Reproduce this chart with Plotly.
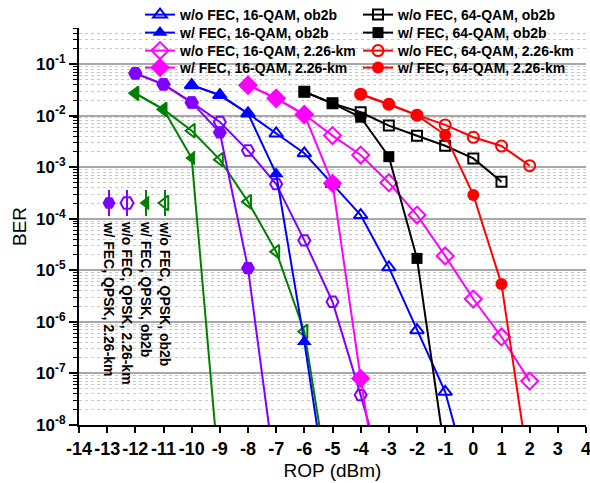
import numpy as np
import plotly.graph_objects as go

# ---------------- data ----------------
qam16_b2b_nofec_x = [-10, -9, -8, -7, -6, -5, -4, -3, -2, -1, 0]
qam16_b2b_nofec_y = [3.9e-2, 2.5e-2, 1.1e-2, 4.5e-3, 1.86e-3, 4.7e-4, 1.18e-4, 1.14e-5, 6.9e-7, 4.4e-8, 4.5e-10]
qam16_b2b_fec_x = [-10, -9, -8, -7, -6, -5]
qam16_b2b_fec_y = [3.9e-2, 2.5e-2, 1.1e-2, 7.4e-4, 4.1e-7, 1e-10]

qam16_km_nofec_x = [-8, -7, -6, -5, -4, -3, -2, -1, 0, 1, 2]
qam16_km_nofec_y = [3.9e-2, 2.16e-2, 1.05e-2, 4.1e-3, 1.72e-3, 5.0e-4, 1.18e-4, 1.9e-5, 2.77e-6, 5.1e-7, 7.1e-8]
qam16_km_fec_x = [-8, -7, -6, -5, -4, -3]
qam16_km_fec_y = [3.9e-2, 2.16e-2, 1.05e-2, 4.9e-4, 8.0e-8, 2.7e-11]

qam64_b2b_nofec_x = [-6, -5, -4, -3, -2, -1, 0, 1]
qam64_b2b_nofec_y = [2.9e-2, 1.73e-2, 1.16e-2, 6.4e-3, 4.07e-3, 2.6e-3, 1.48e-3, 5.2e-4]
qam64_b2b_fec_x = [-6, -5, -4, -3, -2, -1]
qam64_b2b_fec_y = [2.9e-2, 1.73e-2, 9.3e-3, 1.6e-3, 1.7e-5, 2.7e-9]

qam64_km_nofec_x = [-4, -3, -2, -1, 0, 1, 2]
qam64_km_nofec_y = [2.6e-2, 1.66e-2, 1.02e-2, 6.6e-3, 3.8e-3, 2.57e-3, 1.07e-3]
qam64_km_fec_x = [-4, -3, -2, -1, 0, 1, 2]
qam64_km_fec_y = [2.6e-2, 1.66e-2, 1.02e-2, 4.2e-3, 2.9e-4, 5.4e-6, 1.1e-9]

qpsk_km_nofec_x = [-12, -11, -10, -9, -8, -7, -6, -5, -4, -3]
qpsk_km_nofec_y = [6.6e-2, 4.04e-2, 1.8e-2, 7.5e-3, 2.1e-3, 4.7e-4, 3.8e-5, 2.46e-6, 3.8e-8, 4.5e-10]
qpsk_km_fec_x = [-12, -11, -10, -9, -8, -7]
qpsk_km_fec_y = [6.6e-2, 4.04e-2, 1.8e-2, 4.7e-3, 1.1e-5, 8.5e-10]

qpsk_b2b_nofec_x = [-12, -11, -10, -9, -8, -7, -6, -5]
qpsk_b2b_nofec_y = [2.7e-2, 1.32e-2, 5.1e-3, 1.4e-3, 2.14e-4, 2.3e-5, 6.5e-7, 2.5e-10]
qpsk_b2b_fec_x = [-12, -11, -10, -9]
qpsk_b2b_fec_y = [2.7e-2, 1.32e-2, 1.5e-3, 8e-10]

x_tick_vals = list(range(-14, 5))
x_tick_text = [str(v) for v in x_tick_vals]
y_tick_exps = [-8, -7, -6, -5, -4, -3, -2, -1]
y_tick_text = ["10<sup>%d</sup>" % e for e in y_tick_exps]

qpsk_legend_labels = ["w/ FEC, QPSK, 2.26-km", "w/o FEC, QPSK, 2.26-km",
                      "w/ FEC, QPSK, ob2b", "w/o FEC, QPSK, ob2b"]

# ---------------- style ----------------
BLUE = "#0000FF"
MAG = "#FF00FF"
BLK = "#000000"
RED = "#FF0000"
PUR = "#8000FF"
GRN = "#008000"
FONT = "Arial, Liberation Sans, sans-serif"

W, H = 590, 483
L, R, T, B = 79, 586, 28, 425   # plot area in pixels

fig = go.Figure()


def add(x, y, color, symbol, size, name, legend=None, show=True):
    is_open = symbol.endswith("-open")
    fig.add_trace(go.Scatter(
        x=x, y=y, mode="lines+markers", name=name,
        line=dict(color=color, width=2),
        marker=dict(symbol=symbol, size=size, color=color,
                    line=dict(color=color, width=2 if is_open else 0)),
        showlegend=show, legend=legend,
    ))


# QPSK (custom vertical legend)
add(qpsk_b2b_nofec_x, qpsk_b2b_nofec_y, GRN, "triangle-left-open", 12, "w/o FEC, QPSK, ob2b", show=False)
add(qpsk_b2b_fec_x, qpsk_b2b_fec_y, GRN, "triangle-left", 13, "w/ FEC, QPSK, ob2b", show=False)
add(qpsk_km_nofec_x, qpsk_km_nofec_y, PUR, "hexagon2-open", 12, "w/o FEC, QPSK, 2.26-km", show=False)
add(qpsk_km_fec_x, qpsk_km_fec_y, PUR, "hexagon2", 14, "w/ FEC, QPSK, 2.26-km", show=False)

# top legend: one plotly legend per entry so the row pitch matches the reference
legend_rows_px = [15, 33, 51, 68]
add(qam16_b2b_nofec_x, qam16_b2b_nofec_y, BLUE, "triangle-up-open", 12, "w/o FEC, 16-QAM, ob2b", "legend")
add(qam16_b2b_fec_x, qam16_b2b_fec_y, BLUE, "triangle-up", 13, "w/ FEC, 16-QAM, ob2b", "legend2")
add(qam16_km_nofec_x, qam16_km_nofec_y, MAG, "diamond-open", 13, "w/o FEC, 16-QAM, 2.26-km", "legend3")
add(qam16_km_fec_x, qam16_km_fec_y, MAG, "diamond", 15, "w/ FEC, 16-QAM, 2.26-km", "legend4")
add(qam64_b2b_nofec_x, qam64_b2b_nofec_y, BLK, "square-open", 10, "w/o FEC, 64-QAM, ob2b", "legend5")
add(qam64_b2b_fec_x, qam64_b2b_fec_y, BLK, "square", 11, "w/ FEC, 64-QAM, ob2b", "legend6")
add(qam64_km_nofec_x, qam64_km_nofec_y, RED, "circle-open", 11, "w/o FEC, 64-QAM, 2.26-km", "legend7")
add(qam64_km_fec_x, qam64_km_fec_y, RED, "circle", 12, "w/ FEC, 64-QAM, 2.26-km", "legend8")

# ---------------- custom vertical QPSK legend (pixel overlay axes) ----------------
leg_cols = [109, 127, 146, 165]
leg_colors = [PUR, PUR, GRN, GRN]
leg_symbols = ["hexagon2", "hexagon2-open", "triangle-left", "triangle-left-open"]
for cx, col, sym, lab in zip(leg_cols, leg_colors, leg_symbols, qpsk_legend_labels):
    fig.add_trace(go.Scatter(
        x=[cx, cx], y=[190, 216], mode="lines", line=dict(color=col, width=2),
        xaxis="x2", yaxis="y2", showlegend=False, hoverinfo="skip"))
    fig.add_trace(go.Scatter(
        x=[cx], y=[203], mode="markers",
        marker=dict(symbol=sym, size=13, color=col,
                    line=dict(color=col, width=2 if sym.endswith("open") else 0)),
        xaxis="x2", yaxis="y2", showlegend=False, hoverinfo="skip"))
    fig.add_annotation(x=cx, y=219, xref="x2", yref="y2", text=lab, textangle=90,
                       showarrow=False, xanchor="center", yanchor="top",
                       font=dict(family=FONT, size=14, color="black", weight="bold"))

minor_vals = [k * 10.0 ** e for e in range(-8, 0) for k in range(2, 10)]

legend_font = dict(family=FONT, size=14, color="black", weight="bold")
legends = {}
col_left_px = [140, 358]
for i in range(8):
    key = "legend" if i == 0 else "legend%d" % (i + 1)
    col = i // 4
    row = i % 4
    legends[key] = dict(
        x=(col_left_px[col] - L) / (R - L),
        y=(B - legend_rows_px[row]) / (B - T),
        xanchor="left", yanchor="middle",
        bgcolor="rgba(0,0,0,0)", font=legend_font, itemwidth=30,
    )

fig.update_layout(
    width=W, height=H,
    margin=dict(l=L, r=W - R, t=T, b=H - B, autoexpand=False),
    paper_bgcolor="white", plot_bgcolor="white",
    font=dict(family=FONT, color="black"),
    xaxis=dict(
        range=[-14, 4], tickmode="array", tickvals=x_tick_vals, ticktext=x_tick_text, tickangle=0,
        ticks="outside", ticklen=6, tickwidth=1.5, tickcolor="black",
        showline=True, linecolor="black", linewidth=2, showgrid=False, zeroline=False,
        automargin=False, ticklabeloverflow="allow",
        tickfont=dict(family=FONT, size=18, color="black", weight="bold"),
        title=dict(text="ROP (dBm)", font=dict(family=FONT, size=19, color="black"), standoff=6),
    ),
    yaxis=dict(
        type="log", range=[-8, np.log10(0.5)],
        tickmode="array", tickvals=[10.0 ** e for e in y_tick_exps], ticktext=y_tick_text,
        ticks="outside", ticklen=8, tickwidth=1.5, tickcolor="black",
        showline=True, linecolor="black", linewidth=2,
        showgrid=True, gridcolor="#a8a8a8", gridwidth=1.5, zeroline=False,
        automargin=False, ticklabeloverflow="allow",
        minor=dict(tickmode="array", tickvals=minor_vals, ticks="outside", ticklen=4,
                   tickcolor="black", tickwidth=1, showgrid=True, gridcolor="#c8c8c8",
                   griddash="dot", gridwidth=1),
        tickfont=dict(family=FONT, size=17, color="black", weight="bold"),
        title=dict(text="BER", font=dict(family=FONT, size=19, color="black"), standoff=4),
    ),
    xaxis2=dict(overlaying="x", range=[L, R], visible=False, anchor="y2"),
    yaxis2=dict(overlaying="y", range=[B, T], visible=False, anchor="x2"),
    **legends,
)

fig.write_html("out.html")
